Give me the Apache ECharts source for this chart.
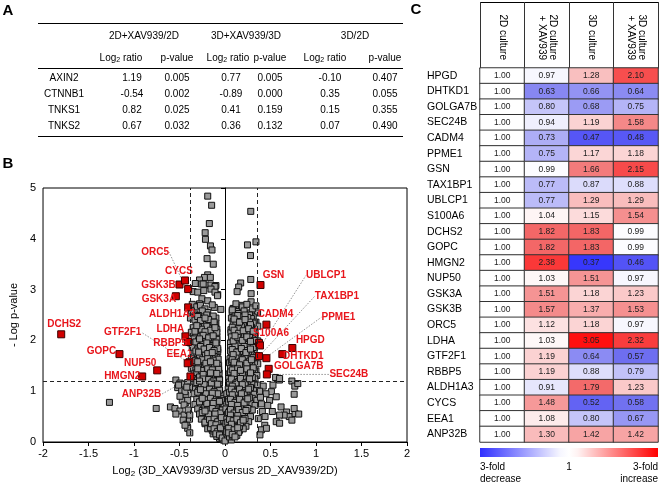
<!DOCTYPE html>
<html><head><meta charset="utf-8">
<script src="https://cdn.jsdelivr.net/npm/echarts@6/dist/echarts.min.js"></script>
<style>html,body{margin:0;padding:0;background:#fff}#c{width:660px;height:484px}</style>
</head><body><div id="c"></div>
<script>
// ---------------- DATA ----------------
// Panel A table
const tblGenes = ['AXIN2','CTNNB1','TNKS1','TNKS2'];
const tblGroups = ['2D+XAV939/2D','3D+XAV939/3D','3D/2D'];
const tblLog2D = [1.19,-0.54,0.82,0.67];
const tblP2D   = [0.005,0.002,0.025,0.032];
const tblLog3D = [0.77,-0.89,0.41,0.36];
const tblP3D   = [0.005,0.000,0.159,0.132];
const tblLog32 = [-0.10,0.35,0.15,0.07];
const tblP32   = [0.407,0.055,0.355,0.490];

// Panel B volcano: significant (red) proteins
const redGenes = ['DCHS2','GOPC','NUP50','HMGN2','GSK3A','GSK3B','CYCS','ORC5','ALDH1A3','LDHA','RBBP5','EEA1','GTF2F1','ANP32B',
                  'GSN','UBLCP1','TAX1BP1','CADM4','PPME1','S100A6','HPGD','DHTKD1','GOLGA7B','SEC24B'];
const redX = [-1.80,-1.16,-0.745,-0.91,-0.54,-0.50,-0.44,-0.405,-0.405,-0.435,-0.405,-0.39,-0.41,-0.38,
               0.39,0.384,0.373,0.455,0.455,0.373,0.74,0.63,0.48,0.46];
const redY = [2.12,1.73,1.41,1.29,2.87,3.10,3.18,3.01,2.65,2.08,1.97,1.57,1.55,1.29,
              3.09,1.90,1.69,2.31,1.65,1.95,1.85,1.73,1.44,1.33];
const leaderGenes = ['ORC5','GTF2F1','ANP32B','UBLCP1','TAX1BP1','PPME1','SEC24B'];

// Panel B volcano: other (grey) proteins [log2 ratio, -log p]
const greyPts = [
 [-0.19,4.84],[-0.147,4.66],[-0.172,4.30],[-0.218,4.12],[-0.215,3.99],[-0.16,3.86],[-0.143,3.78],[-0.197,3.61],[-0.129,3.50],
 [-0.19,3.29],[-0.226,3.24],[-0.161,3.24],[-0.28,3.19],[-0.326,3.12],[-0.26,3.11],[-0.21,3.09],[-0.154,3.09],[-0.10,3.08],
 [-0.24,3.11],[-0.11,3.06],[-0.08,2.90],[-0.35,2.96],[-0.30,2.95],[-0.233,2.98],[-0.154,3.01],[-0.11,2.95],[-0.083,2.88],
 [-0.254,2.82],[-0.19,2.78],[-0.28,2.72],[-0.118,2.65],[-0.046,2.61],[0.09,2.63],
 [0.283,4.54],[0.34,3.94],[0.247,3.88],[0.28,3.67],[0.283,3.20],[0.172,3.13],[0.15,3.05],[0.133,2.96],[0.287,2.92],
 [0.287,2.76],[0.18,2.69],[0.097,2.62],[0.133,2.57],[0.079,2.57],[0.276,2.54],[0.358,2.54],[0.31,2.46],[0.33,2.26],
 // core, left lobe
 [-0.36,2.71],[-0.31,2.66],[-0.27,2.69],[-0.22,2.62],[-0.19,2.55],[-0.33,2.52],[-0.25,2.58],[-0.14,2.70],[-0.29,2.49],[-0.37,2.58],
 [-0.38,2.44],[-0.33,2.40],[-0.27,2.43],[-0.22,2.37],[-0.17,2.45],[-0.12,2.41],[-0.30,2.30],[-0.24,2.27],[-0.19,2.33],[-0.35,2.25],[-0.14,2.26],[-0.28,2.21],[-0.10,2.34],[-0.21,2.20],
 [-0.37,2.16],[-0.32,2.12],[-0.26,2.15],[-0.20,2.10],[-0.15,2.17],[-0.10,2.11],[-0.34,2.03],[-0.29,2.00],[-0.23,2.05],[-0.17,2.01],[-0.12,2.04],[-0.09,2.08],[-0.38,1.95],[-0.31,1.92],[-0.25,1.96],[-0.19,1.91],[-0.13,1.94],[-0.09,1.97],
 [-0.36,1.86],[-0.30,1.83],[-0.24,1.87],[-0.18,1.82],[-0.13,1.85],[-0.08,1.81],[-0.34,1.75],[-0.28,1.72],[-0.22,1.76],[-0.16,1.71],[-0.11,1.74],[-0.08,1.77],[-0.37,1.65],[-0.31,1.62],[-0.26,1.66],[-0.20,1.61],[-0.14,1.64],[-0.09,1.67],
 [-0.35,1.56],[-0.29,1.53],[-0.23,1.57],[-0.17,1.52],[-0.12,1.55],[-0.07,1.51],[-0.37,1.45],[-0.32,1.42],[-0.26,1.46],[-0.20,1.41],[-0.15,1.44],[-0.09,1.47],[-0.07,1.40],[-0.34,1.34],[-0.28,1.31],[-0.22,1.35],[-0.17,1.30],[-0.11,1.33],[-0.065,1.36],
 [-0.36,1.25],[-0.30,1.22],[-0.25,1.26],[-0.19,1.21],[-0.14,1.24],[-0.08,1.20],[-0.06,1.23],[-0.33,1.14],[-0.27,1.11],[-0.22,1.15],[-0.16,1.10],[-0.11,1.13],[-0.06,1.16],[-0.35,1.04],[-0.29,1.01],[-0.24,1.05],[-0.18,1.00],[-0.13,1.03],[-0.07,1.06],[-0.06,1.02],
 [-0.34,0.95],[-0.28,0.92],[-0.23,0.96],[-0.17,0.91],[-0.12,0.94],[-0.06,0.90],[-0.02,0.93],[-0.31,0.84],[-0.26,0.81],[-0.20,0.85],[-0.15,0.80],[-0.09,0.83],[-0.04,0.86],[-0.33,0.74],[-0.27,0.71],[-0.22,0.75],[-0.16,0.70],[-0.11,0.73],[-0.05,0.76],[-0.01,0.72],
 [-0.30,0.65],[-0.25,0.62],[-0.20,0.66],[-0.14,0.61],[-0.09,0.64],[-0.04,0.60],[-0.28,0.55],[-0.23,0.52],[-0.17,0.56],[-0.12,0.51],[-0.07,0.54],[-0.02,0.50],[-0.26,0.45],[-0.20,0.42],[-0.15,0.46],[-0.10,0.41],[-0.05,0.44],[-0.01,0.40],
 [-0.22,0.36],[-0.17,0.33],[-0.12,0.37],[-0.07,0.32],[-0.03,0.35],[-0.19,0.26],[-0.14,0.23],[-0.09,0.27],[-0.05,0.22],[-0.01,0.25],[-0.13,0.16],[-0.08,0.13],[-0.04,0.17],[-0.06,0.07],[-0.02,0.04],
 // core, left arm (dense part)
 [-0.30,2.47],[-0.25,2.35],[-0.20,2.50],[-0.16,2.38],[-0.11,2.30],[-0.10,2.44],[-0.23,2.31],[-0.13,2.48],
 [-0.29,2.26],[-0.24,2.14],[-0.18,2.24],[-0.13,2.13],[-0.09,2.22],[-0.09,2.16],[-0.20,2.28],[-0.33,2.18],
 [-0.27,2.07],[-0.21,1.98],[-0.16,2.08],[-0.11,1.99],[-0.09,2.02],[-0.24,1.93],[-0.14,1.90],[-0.32,1.97],
 [-0.27,1.88],[-0.21,1.79],[-0.15,1.89],[-0.10,1.78],[-0.08,1.84],[-0.25,1.71],[-0.12,1.70],[-0.32,1.79],
 [-0.28,1.68],[-0.23,1.59],[-0.17,1.67],[-0.11,1.58],[-0.075,1.63],[-0.20,1.51],[-0.14,1.50],[-0.33,1.60],
 [-0.29,1.48],[-0.24,1.39],[-0.18,1.48],[-0.13,1.38],[-0.07,1.43],[-0.21,1.32],[-0.15,1.31],[-0.31,1.37],
 [-0.28,1.28],[-0.22,1.19],[-0.17,1.27],[-0.11,1.18],[-0.06,1.22],[-0.20,1.12],[-0.13,1.11],[-0.31,1.17],
 [-0.26,1.08],[-0.21,0.99],[-0.15,1.07],[-0.10,0.98],[-0.06,1.02],[-0.19,0.92],[-0.12,0.91],[-0.30,0.98],
 [-0.24,0.88],[-0.19,0.79],[-0.13,0.88],[-0.08,0.78],[-0.04,0.82],[-0.18,0.72],[-0.10,0.71],[-0.28,0.79],
 [-0.22,0.68],[-0.17,0.59],[-0.12,0.68],[-0.07,0.58],[-0.03,0.63],[-0.16,0.52],[-0.09,0.51],[-0.25,0.58],
 [-0.19,0.48],[-0.14,0.39],[-0.09,0.48],[-0.05,0.38],[-0.02,0.43],[-0.13,0.31],[-0.07,0.30],[-0.22,0.39],
 [-0.16,0.28],[-0.11,0.20],[-0.07,0.28],[-0.03,0.19],[-0.09,0.11],[-0.04,0.10],[-0.01,0.14],
 [-0.27,2.39],[-0.18,2.41],[-0.12,2.36],[-0.22,2.44],
 [-0.26,2.22],[-0.16,2.20],[-0.11,2.25],[-0.22,2.17],[-0.31,2.29],
 [-0.24,2.10],[-0.18,2.05],[-0.13,2.09],[-0.10,1.95],[-0.20,1.95],[-0.28,2.03],
 [-0.23,1.83],[-0.17,1.86],[-0.12,1.80],[-0.19,1.74],[-0.14,1.76],[-0.29,1.77],
 [-0.25,1.62],[-0.19,1.64],[-0.13,1.61],[-0.09,1.55],[-0.21,1.55],[-0.16,1.58],[-0.30,1.58],
 [-0.26,1.41],[-0.19,1.44],[-0.14,1.42],[-0.09,1.35],[-0.24,1.33],[-0.16,1.36],[-0.30,1.44],
 [-0.24,1.24],[-0.18,1.23],[-0.13,1.20],[-0.08,1.14],[-0.23,1.13],[-0.15,1.16],[-0.28,1.20],
 [-0.23,1.02],[-0.17,1.04],[-0.12,0.99],[-0.08,0.95],[-0.21,0.95],[-0.14,0.96],[-0.27,1.03],
 [-0.21,0.83],[-0.16,0.86],[-0.11,0.80],[-0.06,0.80],[-0.20,0.76],[-0.13,0.76],[-0.25,0.86],
 [-0.19,0.63],[-0.14,0.66],[-0.10,0.60],[-0.05,0.57],[-0.18,0.55],[-0.11,0.55],[-0.22,0.61],
 [-0.17,0.44],[-0.12,0.45],[-0.08,0.40],[-0.04,0.48],[-0.15,0.36],[-0.10,0.34],
 [-0.12,0.26],[-0.08,0.21],[-0.05,0.28],[-0.10,0.16],[-0.06,0.14],[-0.03,0.08],
 // core, right lobe
 [0.12,2.72],[0.19,2.66],[0.24,2.71],[0.30,2.62],[0.08,2.60],[0.15,2.53],[0.27,2.50],[0.34,2.68],[0.21,2.58],[0.11,2.48],
 [0.07,2.44],[0.13,2.40],[0.18,2.46],[0.23,2.38],[0.29,2.43],[0.34,2.36],[0.10,2.29],[0.16,2.32],[0.21,2.24],[0.26,2.30],[0.32,2.22],[0.065,2.21],[0.19,2.20],[0.36,2.28],
 [0.065,2.15],[0.11,2.12],[0.17,2.16],[0.22,2.11],[0.27,2.14],[0.33,2.09],[0.09,2.03],[0.14,2.00],[0.20,2.04],[0.25,2.01],[0.30,2.05],[0.36,1.99],[0.06,1.95],[0.12,1.92],[0.18,1.96],[0.23,1.91],[0.29,1.94],[0.34,1.90],
 [0.06,1.86],[0.10,1.83],[0.15,1.87],[0.21,1.82],[0.26,1.85],[0.32,1.80],[0.07,1.75],[0.13,1.72],[0.18,1.76],[0.24,1.71],[0.29,1.74],[0.35,1.70],[0.055,1.64],[0.11,1.61],[0.16,1.65],[0.22,1.62],[0.27,1.66],[0.33,1.60],
 [0.05,1.56],[0.09,1.52],[0.14,1.57],[0.20,1.53],[0.25,1.56],[0.31,1.51],[0.36,1.54],[0.06,1.45],[0.12,1.42],[0.17,1.46],[0.23,1.41],[0.28,1.44],[0.34,1.40],[0.045,1.34],[0.08,1.31],[0.14,1.35],[0.19,1.30],[0.25,1.33],[0.30,1.36],[0.35,1.31],
 [0.04,1.25],[0.07,1.21],[0.12,1.26],[0.17,1.22],[0.22,1.25],[0.28,1.20],[0.33,1.24],[0.05,1.14],[0.10,1.11],[0.15,1.15],[0.21,1.10],[0.26,1.13],[0.31,1.16],[0.36,1.12],[0.035,1.04],[0.08,1.01],[0.13,1.05],[0.18,1.00],[0.24,1.03],[0.29,1.06],[0.34,1.01],
 [0.02,0.95],[0.06,0.91],[0.11,0.96],[0.16,0.92],[0.21,0.95],[0.27,0.90],[0.32,0.94],[0.04,0.84],[0.09,0.81],[0.14,0.85],[0.19,0.80],[0.25,0.83],[0.30,0.86],[0.35,0.82],[0.02,0.74],[0.07,0.71],[0.12,0.75],[0.17,0.70],[0.23,0.73],[0.28,0.76],[0.33,0.72],
 [0.01,0.65],[0.05,0.61],[0.10,0.66],[0.15,0.62],[0.20,0.65],[0.25,0.60],[0.30,0.63],[0.03,0.55],[0.08,0.51],[0.13,0.56],[0.18,0.52],[0.23,0.55],[0.28,0.50],[0.02,0.45],[0.06,0.41],[0.11,0.46],[0.16,0.42],[0.21,0.45],[0.26,0.40],
 [0.01,0.36],[0.05,0.32],[0.09,0.37],[0.14,0.33],[0.19,0.36],[0.23,0.31],[0.03,0.26],[0.07,0.22],[0.12,0.27],[0.16,0.23],[0.20,0.26],[0.02,0.16],[0.06,0.12],[0.10,0.17],[0.13,0.13],[0.03,0.06],[0.07,0.04],[0.00,0.02],
 // core, right arm (dense part)
 [0.09,2.37],[0.14,2.49],[0.20,2.33],[0.25,2.45],[0.31,2.34],[0.12,2.31],[0.22,2.50],[0.27,2.36],
 [0.08,2.26],[0.13,2.16],[0.18,2.27],[0.24,2.16],[0.29,2.26],[0.15,2.23],[0.33,2.15],[0.21,2.13],
 [0.07,2.07],[0.12,1.98],[0.17,2.08],[0.22,1.97],[0.27,2.06],[0.32,2.00],[0.15,1.91],[0.26,1.92],
 [0.06,1.79],[0.11,1.89],[0.16,1.78],[0.21,1.88],[0.26,1.77],[0.31,1.86],[0.14,1.70],[0.24,1.80],
 [0.07,1.59],[0.12,1.68],[0.17,1.58],[0.22,1.67],[0.27,1.59],[0.31,1.66],[0.10,1.50],[0.20,1.50],
 [0.06,1.38],[0.11,1.48],[0.16,1.39],[0.21,1.47],[0.26,1.38],[0.31,1.46],[0.13,1.31],[0.23,1.30],
 [0.05,1.18],[0.10,1.28],[0.15,1.19],[0.20,1.28],[0.25,1.18],[0.30,1.27],[0.13,1.12],[0.23,1.10],
 [0.05,0.98],[0.10,1.08],[0.15,0.99],[0.20,1.08],[0.24,0.98],[0.28,1.07],[0.12,0.92],[0.22,0.91],
 [0.04,0.79],[0.09,0.88],[0.14,0.78],[0.19,0.87],[0.23,0.79],[0.27,0.87],[0.11,0.72],[0.20,0.71],
 [0.04,0.58],[0.08,0.68],[0.12,0.59],[0.17,0.68],[0.21,0.58],[0.25,0.66],[0.10,0.51],[0.18,0.52],
 [0.03,0.39],[0.07,0.48],[0.11,0.39],[0.15,0.48],[0.19,0.40],[0.22,0.46],[0.09,0.31],[0.16,0.30],
 [0.02,0.20],[0.05,0.28],[0.09,0.20],[0.12,0.27],[0.15,0.19],[0.05,0.10],[0.08,0.12],
 [0.10,2.42],[0.16,2.36],[0.22,2.41],[0.28,2.31],
 [0.10,2.20],[0.15,2.14],[0.20,2.19],[0.26,2.23],[0.31,2.18],
 [0.09,1.99],[0.14,2.06],[0.19,2.00],[0.24,2.07],[0.28,1.98],[0.11,2.09],
 [0.08,1.82],[0.13,1.77],[0.18,1.84],[0.23,1.76],[0.28,1.83],[0.09,1.72],
 [0.08,1.62],[0.14,1.55],[0.19,1.62],[0.24,1.55],[0.29,1.62],[0.10,1.57],[0.16,1.52],
 [0.08,1.42],[0.14,1.44],[0.19,1.36],[0.24,1.44],[0.28,1.36],[0.10,1.35],[0.17,1.41],
 [0.07,1.24],[0.12,1.16],[0.17,1.25],[0.22,1.16],[0.27,1.24],[0.08,1.10],[0.19,1.13],
 [0.07,1.04],[0.11,0.98],[0.16,1.04],[0.21,0.97],[0.26,1.04],[0.08,0.93],[0.18,0.95],
 [0.06,0.84],[0.11,0.78],[0.16,0.84],[0.21,0.77],[0.25,0.85],[0.07,0.74],[0.14,0.72],
 [0.06,0.64],[0.10,0.57],[0.15,0.64],[0.19,0.58],[0.23,0.62],[0.06,0.53],[0.14,0.52],
 [0.05,0.44],[0.09,0.42],[0.13,0.45],[0.17,0.38],[0.20,0.43],[0.07,0.35],
 [0.04,0.27],[0.10,0.24],[0.14,0.28],[0.04,0.18],[0.08,0.15],[0.11,0.10],
 // outside thresholds, left
 [-0.54,1.22],[-0.495,1.16],[-0.52,1.07],[-0.45,1.14],[-0.476,1.02],[-0.43,0.92],[-0.60,0.69],[-0.55,0.66],[-0.495,0.61],[-0.756,0.66],
 [-0.45,0.53],[-0.46,0.43],[-0.42,0.35],[-0.41,0.27],[-0.387,0.18],[-1.27,0.78],[-0.54,0.55],[-0.41,1.17],[-0.39,1.08],[-0.43,0.78],
 [-0.40,0.62],[-0.44,0.99],[-0.47,0.82],[-0.39,0.45],[-0.51,1.12],[-0.42,1.08],[-0.495,0.90],[-0.41,0.82],[-0.45,0.73],[-0.405,0.63],[-0.387,0.53],[-0.44,0.33],
 // outside thresholds, right
 [0.556,1.27],[0.598,1.22],[0.735,1.20],[0.767,1.10],[0.76,0.94],[0.527,1.12],[0.51,0.99],[0.563,0.89],[0.49,0.82],[0.616,0.69],
 [0.677,0.59],[0.706,0.50],[0.77,0.56],[0.76,0.66],[0.65,0.53],[0.60,0.53],[0.735,0.43],[0.563,0.40],[0.437,0.33],[0.40,0.24],
 [0.455,0.27],[0.384,0.14],[0.366,0.46],[0.80,1.15],[0.60,0.37],[0.81,0.55],[0.42,1.10],[0.45,0.95],[0.39,0.88],[0.47,0.72],
 [0.41,0.60],[0.52,0.60],[0.44,0.50],[0.38,1.00],[0.40,0.75],[0.60,1.25]
];
const thrX = [-0.38,0.35];
const thrY = 1.2;

// Panel C heatmap
const hmColumns = ['2D culture','2D culture\n+ XAV939','3D culture','3D culture\n+ XAV939'];
const hmGenes = ['HPGD','DHTKD1','GOLGA7B','SEC24B','CADM4','PPME1','GSN','TAX1BP1','UBLCP1','S100A6','DCHS2','GOPC',
                 'HMGN2','NUP50','GSK3A','GSK3B','ORC5','LDHA','GTF2F1','RBBP5','ALDH1A3','CYCS','EEA1','ANP32B'];
const hm2D     = [1,1,1,1,1,1,1,1,1,1,1,1,1,1,1,1,1,1,1,1,1,1,1,1];
const hm2DXAV  = [0.97,0.63,0.80,0.94,0.73,0.75,0.99,0.77,0.77,1.04,1.82,1.82,2.38,1.03,1.51,1.57,1.12,1.03,1.19,1.19,0.91,1.48,1.08,1.30];
const hm3D     = [1.28,0.66,0.68,1.19,0.47,1.17,1.66,0.87,1.29,1.15,1.83,1.83,0.37,1.51,1.18,1.37,1.18,3.05,0.64,0.88,1.79,0.52,0.80,1.42];
const hm3DXAV  = [2.10,0.64,0.75,1.58,0.48,1.18,2.15,0.88,1.29,1.54,0.99,0.99,0.46,0.97,1.23,1.53,0.97,2.32,0.57,0.79,1.23,0.58,0.67,1.42];

// ---------------- STYLE ----------------
const FONT = '"Liberation Sans", Arial, Helvetica, sans-serif';
const RED_TXT = '#e8151b';
const labelOffset = {
  DCHS2:[3,-10], GOPC:[-18,-3], NUP50:[-17,-7], HMGN2:[-20,0], GSK3A:[-17,3], GSK3B:[-21,1], CYCS:[-6,-9],
  ORC5:[-33,-37], ALDH1A3:[-16,7], LDHA:[-15,-7], RBBP5:[-18,1], EEA1:[-10,-8], GTF2F1:[-65,-31], ANP32B:[-49,18],
  GSN:[13,-10], UBLCP1:[66,-70], TAX1BP1:[78,-60], CADM4:[9,-10], PPME1:[72,-41], S100A6:[12,-10],
  HPGD:[18,-8], DHTKD1:[21,2], GOLGA7B:[30,-3], SEC24B:[82,0]
};
const T = {x0:38, x1:403, top:23, h1:36, h2:58, hl:68, row0:78, dy:16, bottom:136,
           geneX:64, hdrX:[121,177,228,270,325,385], valX:[132,177,231,270,330,385], grpX:[144,246,355]};

// ---------------- BUILD ----------------
const chart = echarts.init(document.getElementById('c'));
const g = [];
function txt(x, y, text, o) {
  o = o || {};
  g.push({type:'text', x:x, y:y, silent:true, style:Object.assign({
    text:text, fill:'#000', fontSize:10, fontFamily:FONT, align:'center', verticalAlign:'middle',
    textAlign:'center', textVerticalAlign:'middle'}, o)});
}
function hline(x1, x2, y, w) {
  g.push({type:'line', silent:true, shape:{x1:x1, y1:y+0.5, x2:x2, y2:y+0.5}, style:{stroke:'#000', lineWidth:w||1}});
}
// panel letters
txt(8, 11, 'A', {fontSize:15, fontWeight:'bold'});
txt(8, 164, 'B', {fontSize:15, fontWeight:'bold'});
txt(416, 10, 'C', {fontSize:15, fontWeight:'bold'});
// table A
hline(T.x0, T.x1, T.top, 1.2); hline(T.x0, T.x1, T.hl, 1.2); hline(T.x0, T.x1, T.bottom, 1.2);
tblGroups.forEach((s, i) => txt(T.grpX[i], T.h1, s));
const logRich = {a:{fontSize:10, fontFamily:FONT, fill:'#000'}, s:{fontSize:7, fontFamily:FONT, fill:'#000', padding:[5,0,0,0]}};
for (let k = 0; k < 3; k++) {
  txt(T.hdrX[2*k], T.h2, '{a|Log}{s|2}{a| ratio}', {rich:logRich});
  txt(T.hdrX[2*k+1], T.h2, 'p-value');
}
const cols = [tblLog2D, tblP2D, tblLog3D, tblP3D, tblLog32, tblP32];
tblGenes.forEach((gname, r) => {
  const y = T.row0 + r*T.dy;
  txt(T.geneX, y, gname);
  cols.forEach((c, j) => txt(T.valX[j], y, c[r].toFixed(j % 2 ? 3 : 2)));
});
// heatmap header top line
hline(480, 658, 2, 1);
// colour bar legend
g.push({type:'rect', silent:true, shape:{x:480, y:448, width:178, height:9},
  style:{fill:new echarts.graphic.LinearGradient(0,0,1,0,[
    {offset:0,color:'#2f2fff'},{offset:0.45,color:'#f6f6ff'},{offset:0.5,color:'#ffffff'},
    {offset:0.55,color:'#fff2f2'},{offset:1,color:'#ff0000'}])}});
txt(480, 467, '3-fold', {align:'left', textAlign:'left'});
txt(480, 479, 'decrease', {align:'left', textAlign:'left'});
txt(569, 467, '1');
txt(658, 467, '3-fold', {align:'right', textAlign:'right'});
txt(658, 479, 'increase', {align:'right', textAlign:'right'});

// heatmap data
const hmCols = [hm2D, hm2DXAV, hm3D, hm3DXAV];
const hmData = [];
hmCols.forEach((col, ci) => col.forEach((v, ri) => hmData.push([ci, ri, Math.log10(v), v])));

const redIsLeader = redGenes.map(n => leaderGenes.indexOf(n) >= 0);
function redData(leader) {
  const d = [];
  redGenes.forEach((n, i) => { if (redIsLeader[i] === leader) d.push({name:n, value:[redX[i], redY[i]]}); });
  return d;
}
const redLabel = {show:true, position:'inside', formatter:'{b}', color:RED_TXT, fontSize:10, fontWeight:'bold', fontFamily:FONT};
function layoutFn(series) {
  return function (p) {
    const o = labelOffset[series[p.dataIndex].name] || [0,0];
    return {dx:o[0], dy:o[1]};
  };
}
const redA = redData(false), redB = redData(true);

const axisTxt = {color:'#000', fontSize:11, fontFamily:FONT};
const option = {
  animation:false,
  backgroundColor:'#fff',
  textStyle:{fontFamily:FONT},
  graphic:{elements:g},
  grid:[
    {left:35, top:188, width:372, height:254, show:true, borderColor:'#000', borderWidth:1, backgroundColor:'transparent'},
    {left:480, top:68, width:178, height:374}
  ],
  xAxis:[
    {gridIndex:0, type:'value', min:-2, max:2, interval:0.5,
     axisLine:{lineStyle:{color:'#000'}}, axisTick:{show:true, length:4, lineStyle:{color:'#000'}},
     splitLine:{show:false}, axisLabel:Object.assign({margin:6}, axisTxt),
     name:'{a|Log}{s|2}{a| (3D_XAV939/3D versus 2D_XAV939/2D)}', nameLocation:'middle', nameGap:22,
     nameTextStyle:{rich:{a:{fontSize:11, color:'#000', fontFamily:FONT}, s:{fontSize:8, color:'#000', fontFamily:FONT, padding:[6,0,0,0]}}}},
    {gridIndex:1, type:'category', data:hmColumns, position:'top',
     axisLine:{show:true, lineStyle:{color:'#000'}},
     axisTick:{show:true, length:66, interval:0, lineStyle:{color:'#333'}},
     axisLabel:{rotate:90, margin:8, fontSize:10, lineHeight:11, color:'#000', fontFamily:FONT, interval:0}}
  ],
  yAxis:[
    {gridIndex:0, type:'value', min:0, max:5, interval:1,
     axisLine:{show:true, lineStyle:{color:'#000'}}, axisTick:{show:true, length:4, lineStyle:{color:'#000'}},
     splitLine:{show:false}, axisLabel:Object.assign({margin:7}, axisTxt),
     name:'- Log p-value', nameLocation:'middle', nameGap:22, nameRotate:90,
     nameTextStyle:{fontSize:11, color:'#000', fontFamily:FONT}},
    {gridIndex:1, type:'category', data:hmGenes, inverse:true,
     axisLine:{show:false}, axisTick:{show:false},
     axisLabel:{align:'left', margin:53, fontSize:10.5, color:'#000', fontFamily:FONT, interval:0}}
  ],
  visualMap:{type:'continuous', show:false, seriesIndex:3, dimension:2, min:-0.4771, max:0.4771,
    inRange:{color:['#2a2aff','#7070f0','#ffffff','#f27070','#ff1010']},
    outOfRange:{color:['#8b0a0a']}},
  series:[
    {type:'scatter', xAxisIndex:0, yAxisIndex:0, symbol:'rect', symbolSize:6, data:greyPts,
     itemStyle:{color:'#9a9a9a', borderColor:'#111', borderWidth:1, opacity:1},
     markLine:{silent:true, symbol:['none','none'], label:{show:false},
       lineStyle:{type:[4,3], color:'#222', width:1},
       data:[{xAxis:thrX[0]},{xAxis:thrX[1]},{yAxis:thrY}]}},
    {type:'scatter', xAxisIndex:0, yAxisIndex:0, symbol:'rect', symbolSize:7, data:redA,
     itemStyle:{color:'#d10000', borderColor:'#3a0000', borderWidth:1, opacity:1},
     label:redLabel, labelLayout:layoutFn(redA)},
    {type:'scatter', xAxisIndex:0, yAxisIndex:0, symbol:'rect', symbolSize:7, data:redB,
     itemStyle:{color:'#d10000', borderColor:'#3a0000', borderWidth:1, opacity:1},
     label:redLabel, labelLayout:layoutFn(redB),
     labelLine:{show:true, lineStyle:{color:'#666', width:0.7, type:[1.5,1.5]}}},
    {type:'heatmap', xAxisIndex:1, yAxisIndex:1, data:hmData,
     label:{show:true, formatter:p => p.value[3].toFixed(2), fontSize:8.5, color:'#222', fontFamily:FONT},
     itemStyle:{borderColor:'#333', borderWidth:1}}
  ]
};
chart.setOption(option);
</script></body></html>
